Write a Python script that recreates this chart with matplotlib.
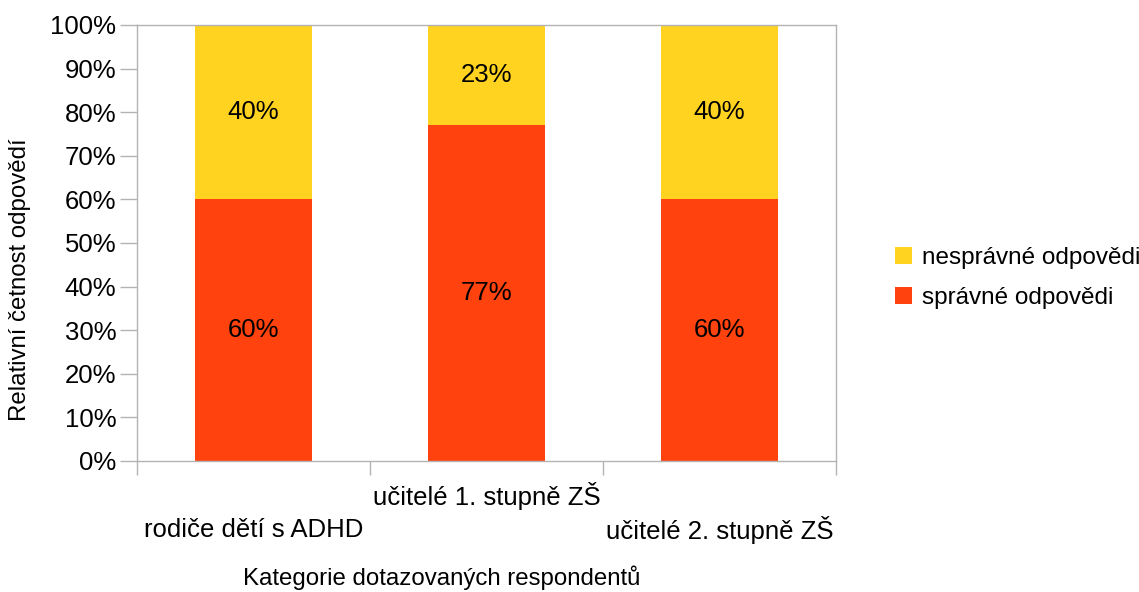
import matplotlib
matplotlib.use("Agg")
import matplotlib.pyplot as plt
from matplotlib.patches import Patch

plt.rcParams['font.family'] = ['Liberation Sans', 'DejaVu Sans']

categories = ["rodiče dětí s ADHD", "učitelé 1. stupně ZŠ", "učitelé 2. stupně ZŠ"]
correct = [60, 77, 60]      # správné odpovědi
incorrect = [40, 23, 40]    # nesprávné odpovědi
series_names = ["nesprávné odpovědi", "správné odpovědi"]
y_ticks = [0, 10, 20, 30, 40, 50, 60, 70, 80, 90, 100]

c_incorrect = "#FFD320"
c_correct = "#FF420E"
grey = "#b3b3b3"
fs = 18.5

fig = plt.figure(figsize=(11.39, 5.92), dpi=100)
ax = fig.add_axes([137/1139, 1 - 461/592, (836 - 137)/1139, (461 - 25)/592])

x = list(range(len(categories)))
ax.bar(x, correct, width=0.5, color=c_correct, zorder=2)
ax.bar(x, incorrect, width=0.5, bottom=correct, color=c_incorrect, zorder=2)

for xi, c, n in zip(x, correct, incorrect):
    ax.text(xi, c / 2, f"{c}%", ha="center", va="center", fontsize=fs, color="black", zorder=3)
    ax.text(xi, c + n / 2, f"{n}%", ha="center", va="center", fontsize=fs, color="black", zorder=3)

ax.set_xlim(-0.5, len(categories) - 0.5)
ax.set_ylim(0, 100)
ax.set_yticks(y_ticks)
ax.set_yticklabels([f"{t}%" for t in y_ticks], fontsize=fs)
ax.tick_params(axis="y", length=12, width=1, color=grey, pad=3)

ax.set_xticks([i - 0.5 for i in range(len(categories) + 1)])
ax.set_xticklabels([])
ax.tick_params(axis="x", length=10, width=1, color=grey)

for side in ["left", "right", "top", "bottom"]:
    ax.spines[side].set_color(grey)
    ax.spines[side].set_linewidth(1)

# staggered category labels
offsets = [-50, -25, -50]
for xi, lab, off in zip(x, categories, offsets):
    ax.annotate(lab, xy=(xi, 0), xycoords=("data", "axes fraction"),
                xytext=(0, off), textcoords="offset points",
                ha="center", va="center", fontsize=fs)

ax.annotate("Kategorie dotazovaných respondentů", xy=(442/1139, 0), xycoords=("figure fraction", "axes fraction"),
            xytext=(0, -84), textcoords="offset points",
            ha="center", va="center", fontsize=17.3)
fig.text(20/1139, 1 - 280/592, "Relativní četnost odpovědí", rotation=90,
         ha="center", va="center", fontsize=17.3)

handles = [Patch(facecolor=c_incorrect, edgecolor="none"),
           Patch(facecolor=c_correct, edgecolor="none")]
fig.legend(handles, series_names, loc="center left",
           bbox_to_anchor=(873/1139, 1 - 278/592), frameon=False, fontsize=17.5,
           handlelength=0.7, handleheight=0.7, handletextpad=0.4, labelspacing=0.75)

fig.savefig("out.png", dpi=100)
